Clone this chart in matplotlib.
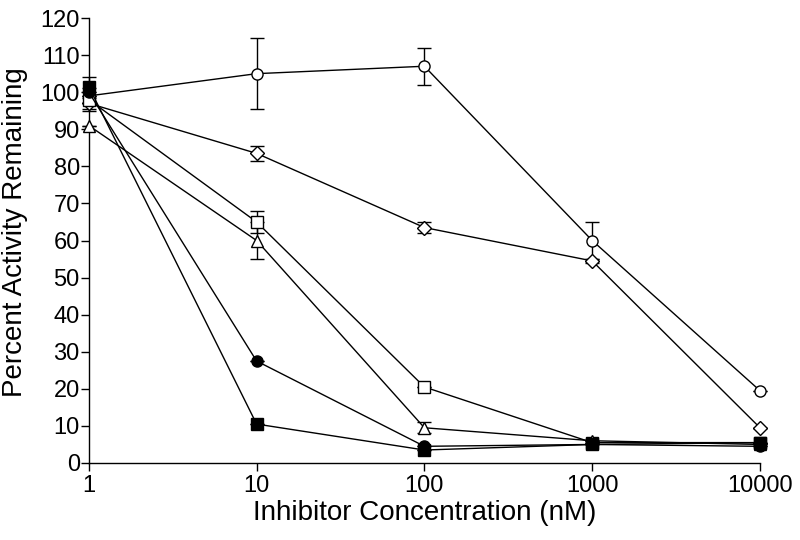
import numpy as np
import matplotlib.pyplot as plt

plt.rcParams['font.family'] = ['Liberation Sans', 'DejaVu Sans']

conc = [1, 10, 100, 1000, 10000]

# open circle
circ_open = [99, 105, 107, 60, 19.5]
circ_open_err = [0, 9.5, 5, 5, 0]
# open diamond
diamond = [97, 83.5, 63.5, 54.5, 9.5]
diamond_err = [1.5, 2, 1.5, 0.5, 0]
# open square
square_open = [98, 65, 20.5, 5.5, 5.5]
square_open_err = [3, 3, 0, 0, 0]
# open triangle
triangle = [91, 60, 9.5, 6, 5]
triangle_err = [0, 5, 1.5, 0, 0]
# filled circle
circ_filled = [100, 27.5, 4.5, 5, 4.5]
circ_filled_err = [0, 0, 0, 0, 0]
# filled square
square_filled = [101.5, 10.5, 3.5, 5, 5.5]
square_filled_err = [2.5, 0, 0, 0, 0]

series = [
    (circ_open, circ_open_err, 'o', 'white'),
    (diamond, diamond_err, 'D', 'white'),
    (square_open, square_open_err, 's', 'white'),
    (triangle, triangle_err, '^', 'white'),
    (circ_filled, circ_filled_err, 'o', 'black'),
    (square_filled, square_filled_err, 's', 'black'),
]

fig = plt.figure(figsize=(8, 5.4), dpi=100)
ax = fig.add_axes([0.111, 0.1426, 0.839, 0.824])

for vals, err, mk, fc in series:
    ms = 7 if mk == 'D' else 8
    ax.errorbar(conc, vals, yerr=err, color='black', lw=1.0, marker=mk,
                markersize=ms, markerfacecolor=fc, markeredgecolor='black',
                markeredgewidth=1.0, capsize=5, elinewidth=1.0, capthick=1.0,
                clip_on=False, zorder=3)

ax.set_xscale('log')
ax.set_xlim(1, 10000)
ax.set_ylim(0, 120)
ax.set_xticks(conc)
ax.set_xticklabels(['1', '10', '100', '1000', '10000'])
ax.xaxis.set_minor_locator(plt.NullLocator())
ax.set_yticks(np.arange(0, 121, 10))

for s in ['top', 'right']:
    ax.spines[s].set_visible(False)
for s in ['left', 'bottom']:
    ax.spines[s].set_linewidth(1.0)
ax.tick_params(direction='out', length=5.5, width=1, labelsize=17)
ax.tick_params(axis='y', pad=1)
ax.tick_params(axis='x', pad=3)

ax.set_xlabel('Inhibitor Concentration (nM)', fontsize=20)
ax.set_ylabel('Percent Activity Remaining', fontsize=20)
ax.xaxis.set_label_coords(0.5, -0.083)
ax.yaxis.set_label_coords(-0.091, 0.519)

fig.savefig('out.png', dpi=100)
